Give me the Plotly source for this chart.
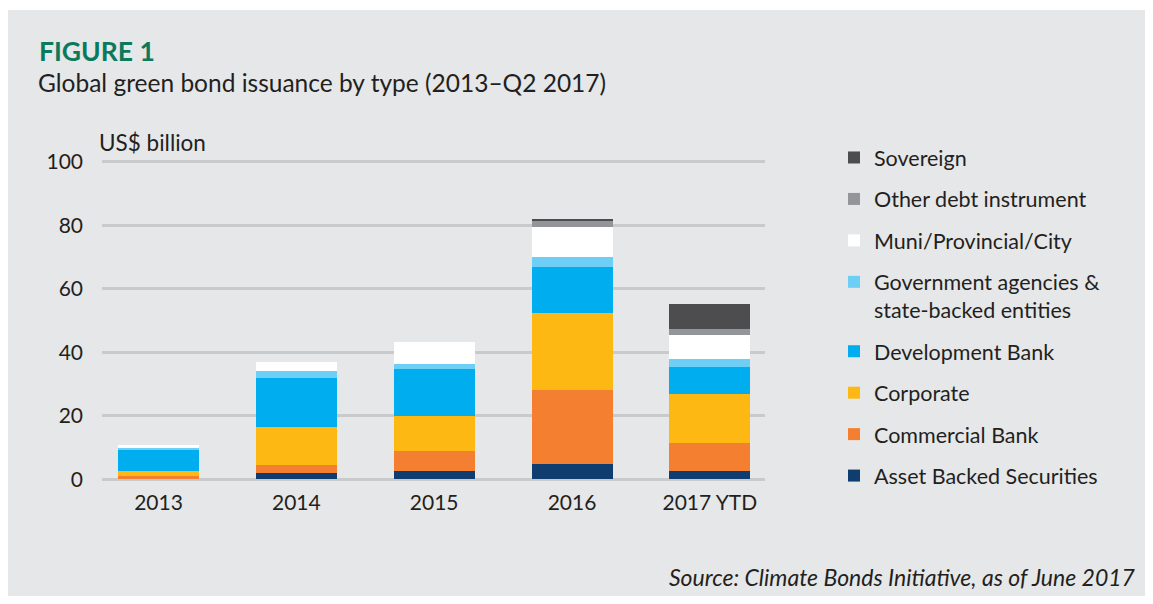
import plotly.graph_objects as go

# Figure is sized so that, with the page's default 8px body margin,
# it fits the 1153x604 window exactly.
OX, OY = 8, 8
FW, FH = 1137, 588


def xf(x):
    return (x - OX) / FW


def yf(y):
    return 1 - (y - OY) / FH


categories = ["2013", "2014", "2015", "2016", "2017 YTD"]

# Stacked from bottom to top (US$ billion)
asset_backed = [0.0, 2.0, 2.7, 4.9, 2.7]
commercial_bank = [0.9, 2.6, 6.3, 23.2, 8.8]
corporate = [1.6, 11.9, 10.9, 24.2, 15.3]
development_bank = [7.1, 15.3, 14.8, 14.4, 8.5]
gov_agencies = [0.6, 2.2, 1.6, 3.2, 2.5]
muni = [0.6, 2.8, 6.9, 9.4, 7.6]
other_debt = [0.0, 0.0, 0.0, 1.9, 1.9]
sovereign = [0.0, 0.0, 0.0, 0.9, 7.8]

series_names = [
    "Asset Backed Securities",
    "Commercial Bank",
    "Corporate",
    "Development Bank",
    "Government agencies &<br>state-backed entities",
    "Muni/Provincial/City",
    "Other debt instrument",
    "Sovereign",
]
series_values = [asset_backed, commercial_bank, corporate, development_bank,
                 gov_agencies, muni, other_debt, sovereign]
series_colors = ["#0f3d6f", "#f47f31", "#fdb813", "#00aeef",
                 "#6dcff6", "#ffffff", "#939598", "#4d4d4f"]

y_ticks = [0, 20, 40, 60, 80, 100]

FONT = "Lato"
TXT = "#231f20"

fig = go.Figure()
n = len(series_names)
for i, (name, vals, col) in enumerate(zip(series_names, series_values, series_colors)):
    fig.add_trace(go.Bar(
        x=categories, y=vals, name=name,
        marker=dict(color=col, line=dict(width=0)),
        legendgroup=f"g{i}",
        legendrank=n - i,
    ))

# page-pixel mapping: zero at 479.2, 100 at 161.7 ; range padded by 1 unit
y_bot = 479.2 + 3.175
y_top = 161.7 - 3.175

fig.update_layout(
    width=FW, height=FH,
    margin=dict(l=0, r=0, t=0, b=0, autoexpand=False),
    paper_bgcolor="white",
    plot_bgcolor="rgba(0,0,0,0)",
    barmode="stack",
    bargap=0.412,
    font=dict(family=FONT, color=TXT, size=21),
    xaxis=dict(
        domain=[xf(102), xf(765)],
        range=[-0.41, 4.40],
        automargin=False,
        showgrid=False, zeroline=False, showline=False,
        ticks="", tickfont=dict(size=21, family=FONT, color=TXT),
        ticklabelstandoff=6,
    ),
    yaxis=dict(
        domain=[yf(y_bot), yf(y_top)],
        range=[-1, 101],
        automargin=False,
        tickvals=y_ticks,
        showgrid=True, gridcolor="#c9cacc", gridwidth=3,
        zeroline=False, showline=False, ticks="",
        tickfont=dict(size=21, family=FONT, color=TXT),
        ticklabelstandoff=18,
    ),
    legend=dict(
        x=xf(834), xanchor="left",
        y=yf(137), yanchor="top",
        traceorder="grouped",
        tracegroupgap=10.5,
        valign="top",
        bgcolor="rgba(0,0,0,0)",
        font=dict(size=21.5, family=FONT, color=TXT),
    ),
    shapes=[dict(
        type="rect", xref="paper", yref="paper",
        x0=xf(8), x1=xf(1152), y0=yf(603), y1=yf(10),
        fillcolor="#e6e7e9", line=dict(width=0), layer="below",
    )],
    annotations=[
        dict(text="<b>FIGURE 1</b>", xref="paper", yref="paper",
             x=xf(37), y=yf(51), xanchor="left", yanchor="middle",
             showarrow=False, font=dict(size=26.5, family=FONT, color="#0b7a5c")),
        dict(text="Global green bond issuance by type (2013–Q2 2017)",
             xref="paper", yref="paper",
             x=xf(36), y=yf(83), xanchor="left", yanchor="middle",
             showarrow=False, font=dict(size=24.5, family=FONT, color=TXT)),
        dict(text="US$ billion", xref="paper", yref="paper",
             x=xf(97), y=yf(142), xanchor="left", yanchor="middle",
             showarrow=False, font=dict(size=22.5, family=FONT, color=TXT)),
        dict(text="<i>Source: Climate Bonds Initiative, as of June 2017</i>",
             xref="paper", yref="paper",
             x=xf(1138), y=yf(577), xanchor="right", yanchor="middle",
             showarrow=False, font=dict(size=23, family=FONT, color=TXT)),
    ],
)

fig.write_html("out.html")
